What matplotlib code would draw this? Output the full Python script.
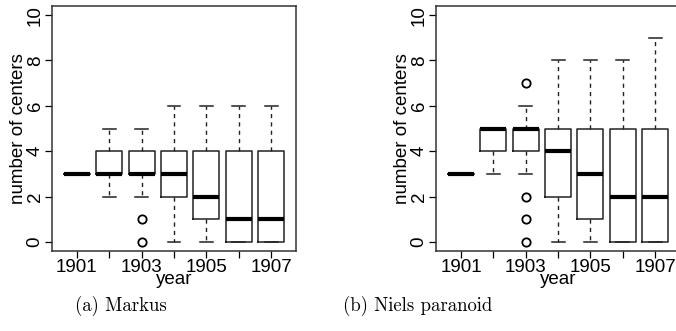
import matplotlib
matplotlib.use("Agg")
import matplotlib.pyplot as plt

years = ["1901", "1902", "1903", "1904", "1905", "1906", "1907"]

# Markus
markus_med = [3, 3, 3, 3, 2, 1, 1]
markus_q1 = [3, 3, 3, 2, 1, 0, 0]
markus_q3 = [3, 4, 4, 4, 4, 4, 4]
markus_lo = [3, 2, 2, 0, 0, 0, 0]
markus_hi = [3, 5, 5, 6, 6, 6, 6]
markus_out = [[], [], [0, 1], [], [], [], []]

# Niels paranoid
niels_med = [3, 5, 5, 4, 3, 2, 2]
niels_q1 = [3, 4, 4, 2, 1, 0, 0]
niels_q3 = [3, 5, 5, 5, 5, 5, 5]
niels_lo = [3, 3, 3, 0, 0, 0, 0]
niels_hi = [3, 5, 6, 8, 8, 8, 9]
niels_out = [[], [], [7, 2, 1, 0], [], [], [], []]

captions = ["(a) Markus", "(b) Niels paranoid"]

plt.rcParams["font.family"] = "Liberation Sans"
FS = 13.5


def makeStats(med, q1, q3, lo, hi, out):
    stats = []
    for i in range(len(med)):
        stats.append({"med": med[i], "q1": q1[i], "q3": q3[i],
                      "whislo": lo[i], "whishi": hi[i], "fliers": out[i]})
    return stats


def drawPanel(ax, stats):
    ax.bxp(stats, positions=range(1, len(stats) + 1), widths=0.8,
           showfliers=True,
           boxprops=dict(color="#222222", linewidth=1.1),
           medianprops=dict(color="black", linewidth=3, solid_capstyle="butt"),
           whiskerprops=dict(color="#222222", linewidth=1, linestyle=(0, (3, 3))),
           capprops=dict(color="#222222", linewidth=1.1),
           capwidths=0.4,
           flierprops=dict(marker="o", markersize=6, markerfacecolor="none",
                           markeredgecolor="black", markeredgewidth=1.3))
    ax.set_xlim(0.23, 7.77)
    ax.set_ylim(-0.4, 10.4)
    ax.set_xticks(range(1, 8))
    ax.set_xticklabels([y if i % 2 == 0 else "" for i, y in enumerate(years)])
    ax.set_yticks(range(0, 11, 2))
    ax.set_yticklabels([str(v) for v in range(0, 11, 2)], rotation=90, va="center")
    ax.tick_params(axis="both", labelsize=FS, length=5, width=0.9, direction="out", pad=1)
    ax.set_xlabel("year", fontsize=FS, labelpad=-4)
    ax.set_ylabel("number of centers", fontsize=FS, labelpad=0)
    for s in ax.spines.values():
        s.set_linewidth(1.1)
        s.set_color("#333333")


fig = plt.figure(figsize=(6.76, 3.31), dpi=100)
ax1 = fig.add_axes([0.0769, 0.2417, 0.361, 0.740])
ax2 = fig.add_axes([0.645, 0.2417, 0.361, 0.740])

drawPanel(ax1, makeStats(markus_med, markus_q1, markus_q3, markus_lo, markus_hi, markus_out))
drawPanel(ax2, makeStats(niels_med, niels_q1, niels_q3, niels_lo, niels_hi, niels_out))

fig.text(0.179, 0.075, captions[0], family="cmr10", fontsize=13.5, ha="center", va="center")
fig.text(0.618, 0.075, captions[1], family="cmr10", fontsize=13.5, ha="center", va="center")

fig.savefig("out.png", dpi=100)
